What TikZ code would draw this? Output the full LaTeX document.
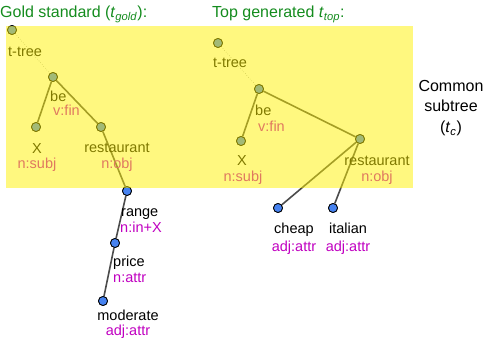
\documentclass[tikz,border=0pt]{standalone}
\usepackage{fontspec}
\setmainfont{Liberation Sans}
\usepackage{tikz}
\definecolor{titlegreen}{RGB}{20,140,30}
\definecolor{rolepink}{RGB}{192,0,192}
\definecolor{nodeblue}{RGB}{70,130,240}
\definecolor{edgegrey}{RGB}{75,75,75}
\tikzset{
	tnode/.style={circle,draw=black,line width=0.8pt,fill=nodeblue,inner sep=0pt,minimum size=9pt},
	word/.style={anchor=base,inner sep=0pt,font=\fontsize{14.5}{16}\selectfont},
	role/.style={word,text=rolepink},
	title/.style={anchor=base west,inner sep=0pt,font=\fontsize{16}{18}\selectfont}
}
\begin{document}
\begin{tikzpicture}[x=1pt,y=-1pt]
	\useasboundingbox (0,0) rectangle (485,339);
	% gold standard tree
	\node[tnode] (g0) at (12,30) {};
	\node[tnode] (g1) at (53,77) {};
	\node[tnode] (gX) at (36,127) {};
	\node[tnode] (gR) at (101,127) {};
	\node[tnode] (gRa) at (127,191) {};
	\node[tnode] (gP) at (115,243) {};
	\node[tnode] (gM) at (103,301) {};
	% top generated tree
	\node[tnode] (t0) at (218,43) {};
	\node[tnode] (t1) at (259,89) {};
	\node[tnode] (tX) at (241,141) {};
	\node[tnode] (tR) at (360,139) {};
	\node[tnode] (tC) at (278,208) {};
	\node[tnode] (tI) at (333,208) {};
	\draw [edgegrey,thin,dotted] (g0) edge (g1);
	\draw [edgegrey,line width=1.6pt] (g1) edge (gX);
	\draw [edgegrey,line width=1.6pt] (g1) edge (gR);
	\draw [edgegrey,line width=1.6pt] (gR) edge (gRa);
	\draw [edgegrey,line width=1.6pt] (gRa) edge (gP);
	\draw [edgegrey,line width=1.6pt] (gP) edge (gM);
	\draw [edgegrey,thin,dotted] (t0) edge (t1);
	\draw [edgegrey,line width=1.6pt] (t1) edge (tX);
	\draw [edgegrey,line width=1.6pt] (t1) edge (tR);
	\draw [edgegrey,line width=1.6pt] (tR) edge (tC);
	\draw [edgegrey,line width=1.6pt] (tR) edge (tI);
	% redraw nodes above the edges
	\foreach \n in {g0,g1,gX,gR,gRa,gP,gM,t0,t1,tX,tR,tC,tI}
		\node[tnode] at (\n) {};
	% labels, gold
	\node[word,anchor=base west] (lg0) at (8,57) {t-tree};
	\node[word,anchor=base west] (lg1) at (50,102) {be};
	\node[role,anchor=base west] (rg1) at (53,116) {v:fin};
	\node[word] (lgX) at (37,154) {X};
	\node[role] (rgX) at (37,169) {n:subj};
	\node[word] (lgR) at (117,153) {restaurant};
	\node[role] (rgR) at (117,169) {n:obj};
	\node[word,anchor=base west] (lgRa) at (121,217) {range};
	\node[role,anchor=base west] (rgRa) at (120,233) {n:in+X};
	\node[word,anchor=base west] (lgP) at (113,267) {price};
	\node[role,anchor=base west] (rgP) at (113,283) {n:attr};
	\node[word] (lgM) at (128,320) {moderate};
	\node[role] (rgM) at (128,335) {adj:attr};
	% labels, top
	\node[word,anchor=base west] (lt0) at (213,68) {t-tree};
	\node[word,anchor=base west] (lt1) at (255,116) {be};
	\node[role,anchor=base west] (rt1) at (258,132) {v:fin};
	\node[word] (ltX) at (242,166) {X};
	\node[role] (rtX) at (243,182) {n:subj};
	\node[word] (ltR) at (377,166) {restaurant};
	\node[role] (rtR) at (377,182) {n:obj};
	\node[word] (ltC) at (294,234) {cheap};
	\node[role] (rtC) at (294,252) {adj:attr};
	\node[word] (ltI) at (348,234) {italian};
	\node[role] (rtI) at (348,252) {adj:attr};
	% common subtree shading
	\fill [yellow,opacity=0.5] (6,26) rectangle (413,188);
	% titles
	\node[title,text=titlegreen] (tgold) at (0,18) {Gold standard (\textit{t}\textsubscript{\textit{gold}}):};
	\node[title,text=titlegreen] (ttop) at (212,18) {Top generated \textit{t}\textsubscript{\textit{top}}:};
	\node[align=center,inner sep=0pt,font=\fontsize{16}{20.5}\selectfont] (common) at (451,108) {Common\\subtree\\(\textit{t}\textsubscript{\textit{c}})};
\end{tikzpicture}
\end{document}
